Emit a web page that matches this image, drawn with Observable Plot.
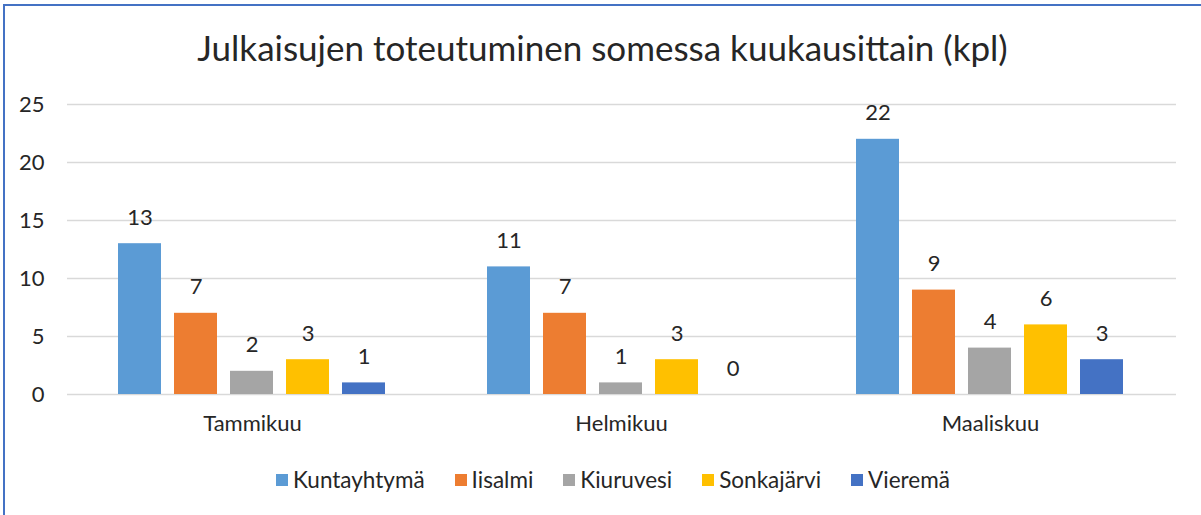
<!DOCTYPE html>
<html>
<head>
<meta charset="utf-8">
<script src="https://cdn.jsdelivr.net/npm/d3@7"></script>
<script src="https://cdn.jsdelivr.net/npm/@observablehq/plot@0.6"></script>
<style>
  body { margin: 0; overflow: hidden; background: #fff; font-family: Lato, sans-serif; color: #262626; }
  #frame { position: absolute; left: 3px; top: 4px; width: 1400px; height: 700px;
           border-top: 2px solid #4472C4; border-left: 2px solid #4472C4; }
  #title { position: absolute; left: 0; width: 1205px; top: 26px; text-align: center;
           font-size: 35px; line-height: 42px; white-space: nowrap; }
  .layer { position: absolute; left: 0; top: 80px; }
  #legend { position: absolute; left: 276px; top: 467px; display: flex; align-items: center;
            font-size: 22.5px; line-height: 26px; white-space: nowrap; }
  .item { display: flex; align-items: center; margin-right: 30px; }
  .sw { width: 12px; height: 12px; margin-right: 5px; }
</style>
</head>
<body>
<div id="frame"></div>
<div id="title"></div>
<div id="grid" class="layer"></div>
<div id="chart" class="layer"></div>
<div id="legend"></div>
<script>
const titleText = "Julkaisujen toteutuminen somessa kuukausittain (kpl)";
const months = ["Tammikuu", "Helmikuu", "Maaliskuu"];
const series = ["Kuntayhtymä", "Iisalmi", "Kiuruvesi", "Sonkajärvi", "Vieremä"];
const colors = ["#5B9BD5", "#ED7D31", "#A5A5A5", "#FFC000", "#4472C4"];
const kuntayhtyma = [13, 11, 22];
const iisalmi = [7, 7, 9];
const kiuruvesi = [2, 1, 4];
const sonkajarvi = [3, 3, 6];
const vierema = [1, 0, 3];
const yTicks = [0, 5, 10, 15, 20, 25];

const seriesValues = [kuntayhtyma, iisalmi, kiuruvesi, sonkajarvi, vierema];
const data = [];
months.forEach((m, i) => series.forEach((s, j) => data.push({month: m, series: s, value: seriesValues[j][i]})));

document.getElementById("title").textContent = titleText;

const common = {
  width: 1201,
  height: 380,
  marginLeft: 67,
  marginRight: 25,
  marginTop: 24,
  marginBottom: 66,
  style: {fontFamily: "Lato, sans-serif", fontSize: "22px", color: "#262626", background: "transparent"},
  y: {domain: [0, 25], axis: null}
};

// Background layer: horizontal gridlines and y tick labels across the full plot width
const grid = Plot.plot({
  ...common,
  marks: [
    Plot.ruleY(yTicks, {y: d => d, stroke: "#D9D9D9", strokeWidth: 1.3}),
    Plot.text(yTicks, {y: d => d, text: d => String(d), frameAnchor: "left", textAnchor: "end", dx: -23})
  ]
});
document.getElementById("grid").appendChild(grid);

// Foreground layer: grouped bars
const chart = Plot.plot({
  ...common,
  fx: {domain: months, paddingInner: 0.23, paddingOuter: 0.115, label: null, axis: null},
  x: {domain: series, paddingInner: 0.23, paddingOuter: 0.115, axis: null},
  color: {domain: series, range: colors},
  marks: [
    Plot.barY(data, {fx: "month", x: "series", y: "value", fill: "series"}),
    Plot.text(data, {fx: "month", x: "series", y: "value", text: d => String(d.value), dy: -26}),
    Plot.axisFx({anchor: "bottom", tickSize: 0, tickPadding: 21, label: null, fontSize: 22})
  ]
});
document.getElementById("chart").appendChild(chart);

const legend = d3.select("#legend");
series.forEach((s, i) => {
  const it = legend.append("div").attr("class", "item");
  it.append("div").attr("class", "sw").style("background", colors[i]);
  it.append("span").text(s);
});
</script>
</body>
</html>
